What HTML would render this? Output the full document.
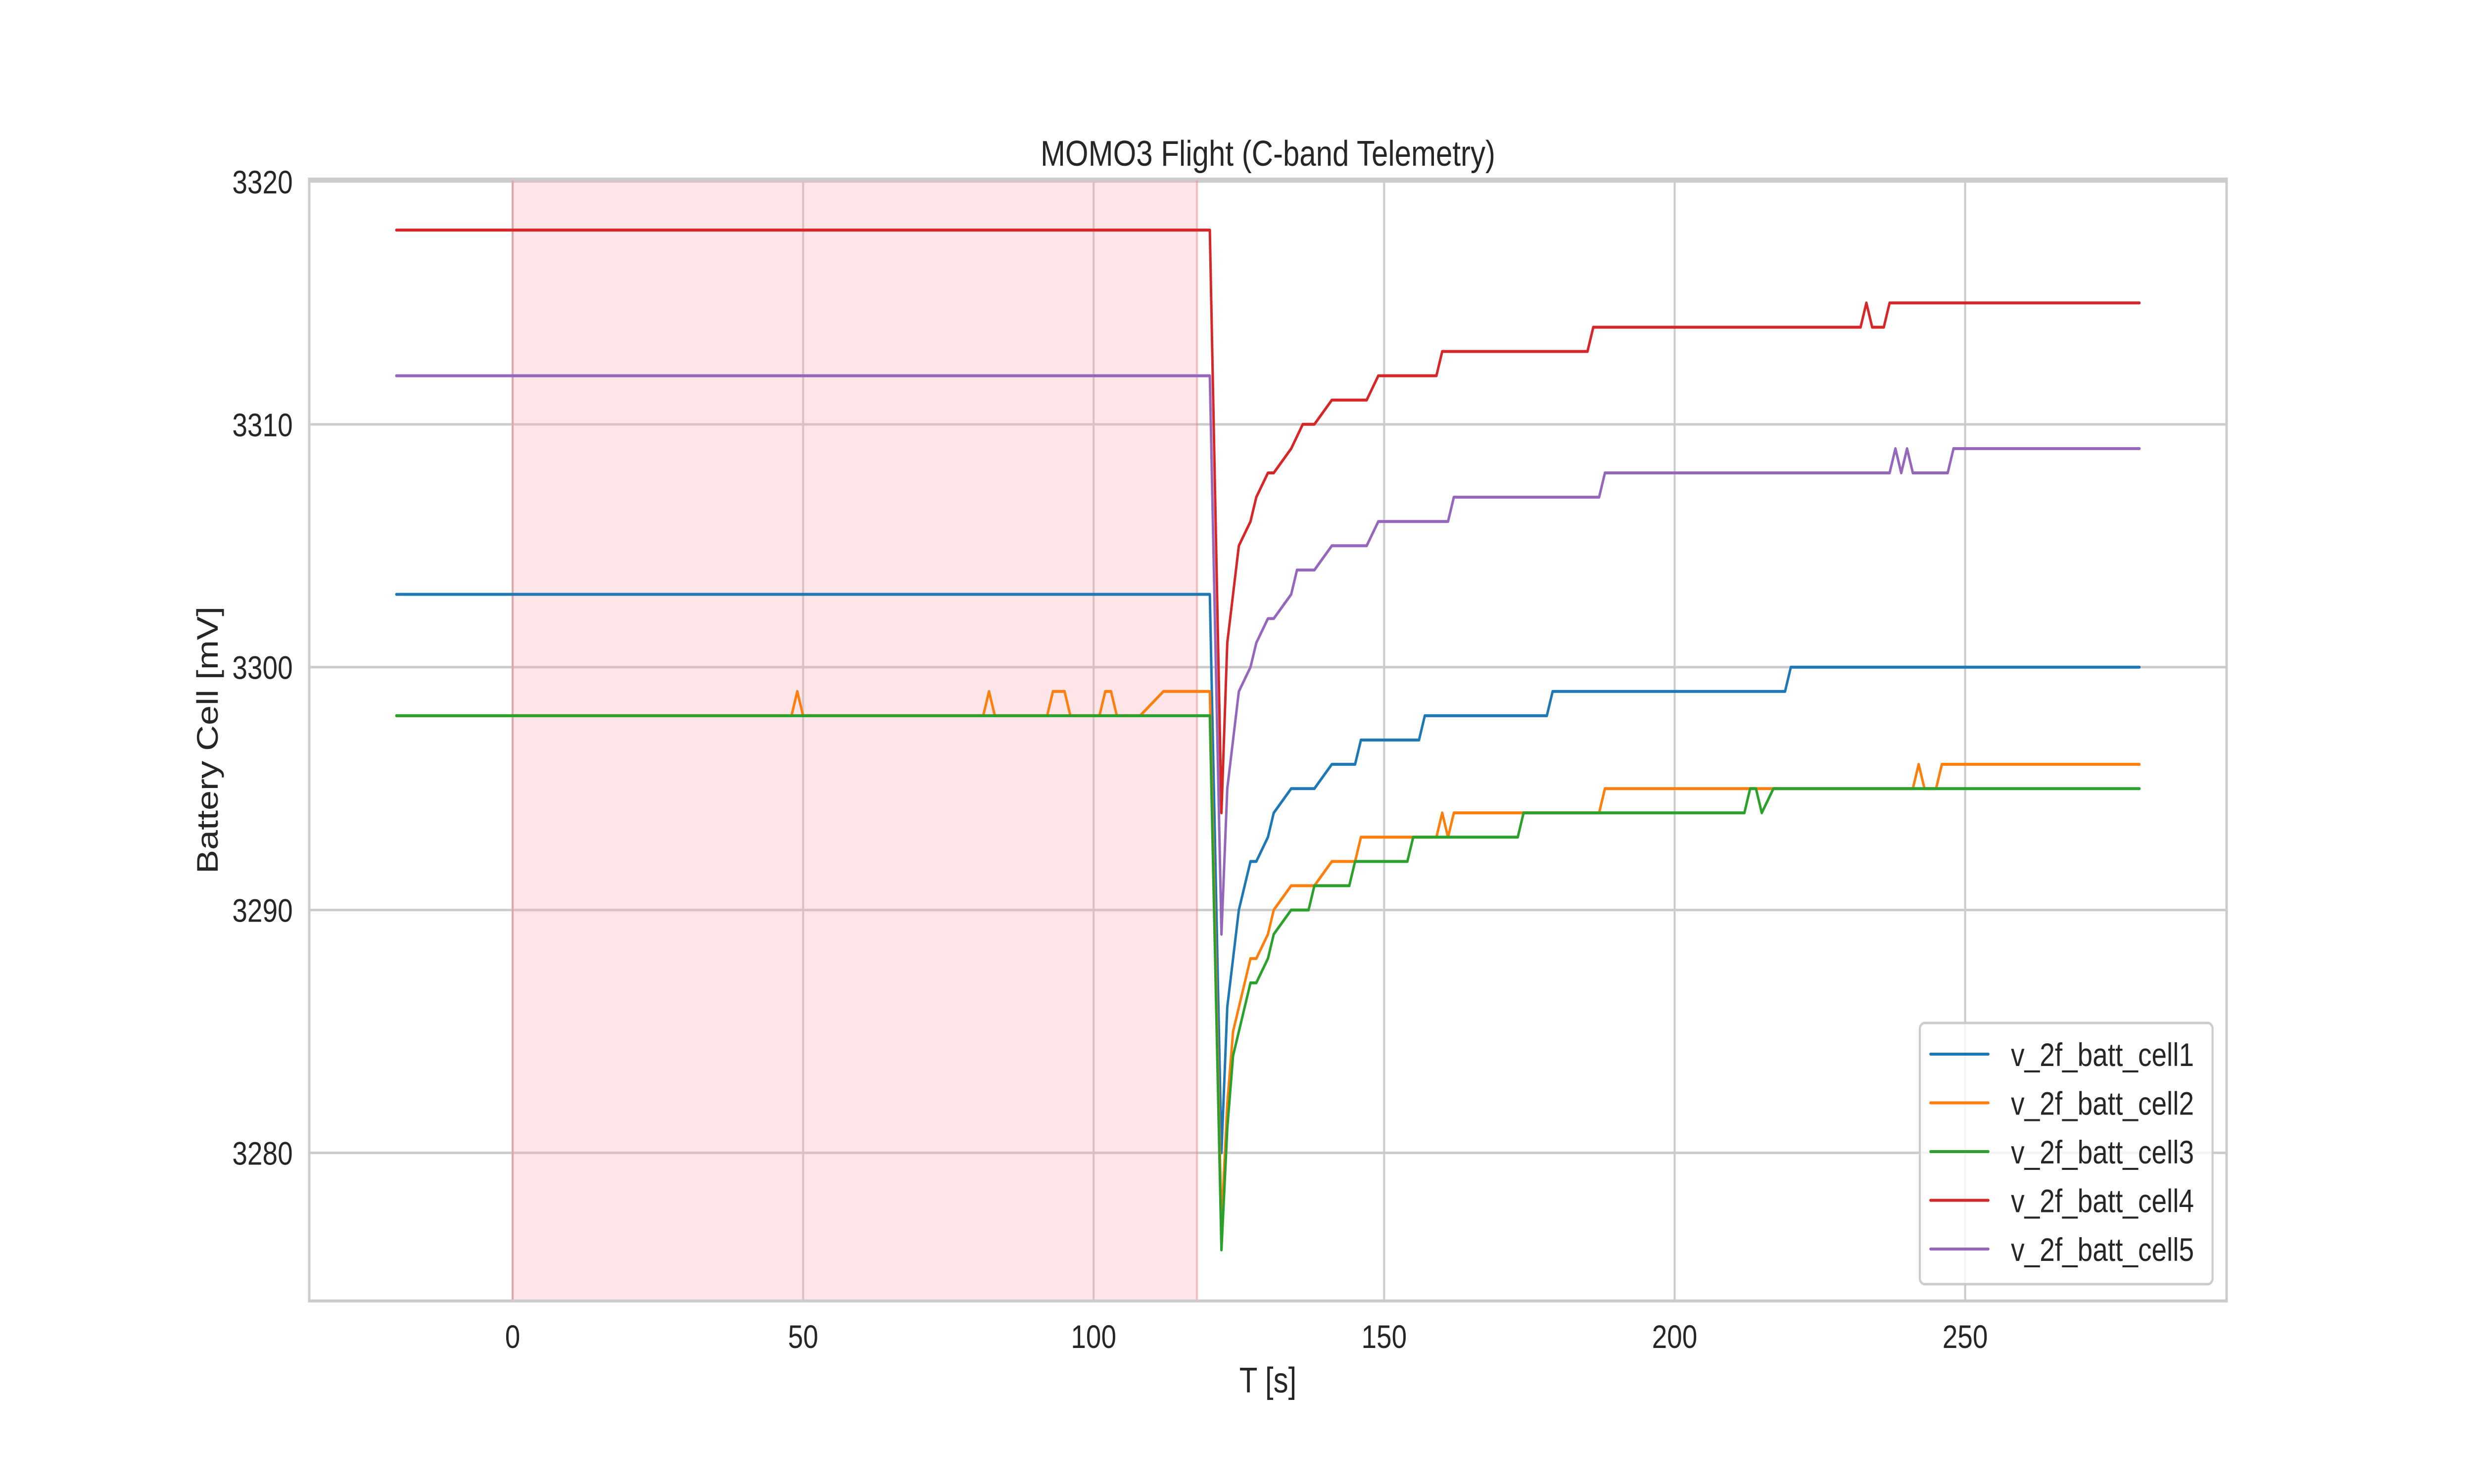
<!DOCTYPE html>
<html><head><meta charset="utf-8"><meta name="viewport" content="width=6000">
<style>
html,body{margin:0;padding:0;background:#fff;overflow:hidden;width:100vw;height:100vh;}
svg{display:block;width:100vw;height:100vh;font-family:"Liberation Sans",Arial,sans-serif;}
</style></head><body>
<svg id="chart" viewBox="0 0 6000 3000" preserveAspectRatio="none" xmlns="http://www.w3.org/2000/svg">
<rect x="0" y="0" width="6000" height="3000" fill="#fff"/>
<g id="grid"></g>
<g id="shade"></g>
<g id="series"></g>
<rect x="750" y="362" width="4650" height="2268" fill="none" stroke="#cccccc" stroke-width="6"/>
<g id="ticks"></g>
<text x="3075" y="335" font-size="72" text-anchor="middle" fill="#262626">MOMO3 Flight (C-band Telemetry)</text>
<text x="3075" y="2815" font-size="72" text-anchor="middle" fill="#262626">T [s]</text>
<text x="528" y="1496" font-size="72" text-anchor="middle" fill="#262626" transform="rotate(-90 528 1496)">Battery Cell [mV]</text>
<g id="legend"></g>
</svg>
<script>
const xTicks=[0,50,100,150,200,250];
const yTicks=[3280,3290,3300,3310,3320];
const seriesNames=["v_2f_batt_cell1","v_2f_batt_cell2","v_2f_batt_cell3","v_2f_batt_cell4","v_2f_batt_cell5"];
const colors=["#1f77b4","#ff7f0e","#2ca02c","#d62728","#9467bd"];
const shadeRange=[0,117.8];
const cell1T=[-20,120,122,123,125,127,128,130,131,134,138,141,145,146,156,157,178,179,219,220,280];
const cell1V=[3303,3303,3280,3286,3290,3292,3292,3293,3294,3295,3295,3296,3296,3297,3297,3298,3298,3299,3299,3300,3300];
const cell2T=[-20,48,49,50,81,82,83,92,93,95,96,101,102,103,104,108,112,120,122,123,124,127,128,130,131,134,138,141,145,146,159,160,161,162,187,188,241,242,243,245,246,280];
const cell2V=[3298,3298,3299,3298,3298,3299,3298,3298,3299,3299,3298,3298,3299,3299,3298,3298,3299,3299,3277,3282,3285,3288,3288,3289,3290,3291,3291,3292,3292,3293,3293,3294,3293,3294,3294,3295,3295,3296,3295,3295,3296,3296];
const cell3T=[-20,120,122,123,124,127,128,130,131,134,137,138,144,145,154,155,173,174,212,213,214,215,217,280];
const cell3V=[3298,3298,3276,3281,3284,3287,3287,3288,3289,3290,3290,3291,3291,3292,3292,3293,3293,3294,3294,3295,3295,3294,3295,3295];
const cell4T=[-20,120,122,123,125,127,128,130,131,134,136,138,141,147,149,159,160,185,186,232,233,234,236,237,280];
const cell4V=[3318,3318,3294,3301,3305,3306,3307,3308,3308,3309,3310,3310,3311,3311,3312,3312,3313,3313,3314,3314,3315,3314,3314,3315,3315];
const cell5T=[-20,120,122,123,125,127,128,130,131,134,135,138,141,147,149,161,162,187,188,237,238,239,240,241,247,248,280];
const cell5V=[3312,3312,3289,3295,3299,3300,3301,3302,3302,3303,3304,3304,3305,3305,3306,3306,3307,3307,3308,3308,3309,3308,3309,3308,3308,3309,3309];

const NS="http://www.w3.org/2000/svg";
const L=750,R=5400,T=362,B=2630,X0=-35,X1=295,Y0=3273.9,Y1=3320.1;
function sx(v){return L+(v-X0)/(X1-X0)*(R-L);}
function sy(v){return B-(v-Y0)/(Y1-Y0)*(B-T);}
function mk(tag,attrs,parent){const e=document.createElementNS(NS,tag);for(const k in attrs)e.setAttribute(k,attrs[k]);parent.appendChild(e);return e;}
const grid=document.getElementById('grid'),ticks=document.getElementById('ticks');
xTicks.forEach(v=>{
  const l=mk('line',{x1:sx(v),x2:sx(v),y1:T,y2:B,stroke:'#cccccc','stroke-width':5},grid);
  
  
  const t=mk('text',{x:sx(v),y:B+95,'font-size':66,'text-anchor':'middle',fill:'#262626'},ticks);
  t.textContent=v;
  
  
});
yTicks.forEach(v=>{
  const l=mk('line',{x1:L,x2:R,y1:sy(v),y2:sy(v),stroke:'#cccccc','stroke-width':5},grid);
  
  
  const t=mk('text',{x:L-40,y:sy(v)+24,'font-size':66,'text-anchor':'end',fill:'#262626'},ticks);
  t.textContent=v;
  
  
});
const sh=mk('rect',{x:sx(shadeRange[0]),y:T,width:sx(shadeRange[1])-sx(shadeRange[0]),height:B-T,fill:'rgba(250,170,180,0.3)',stroke:'rgba(230,140,150,0.5)','stroke-width':5},document.getElementById('shade'));


const allT=[cell1T,cell2T,cell3T,cell4T,cell5T],allV=[cell1V,cell2V,cell3V,cell4V,cell5V];
const sg=document.getElementById('series');
for(let i=0;i<5;i++){
  const d=allT[i].map((t,j)=>(j?'L':'M')+sx(t).toFixed(1)+' '+sy(allV[i][j]).toFixed(1)).join(' ');
  const p=mk('path',{d:d,fill:'none',stroke:colors[i],'stroke-width':6,'stroke-linejoin':'round','stroke-linecap':'round'},sg);
  
  
}
const lg=document.getElementById('legend');
const box=mk('rect',{x:4656,y:2068,width:710,height:528,rx:12,fill:'rgba(255,255,255,0.8)',stroke:'#cccccc','stroke-width':5},lg);


for(let i=0;i<5;i++){
  const y=2131+i*98.5;
  const ln=mk('line',{x1:4682,x2:4822,y1:y,y2:y,stroke:colors[i],'stroke-width':6,'stroke-linecap':'round'},lg);
  
  
  const t=mk('text',{x:4877,y:y+24,'font-size':66,fill:'#262626'},lg);
  t.textContent=seriesNames[i];
  
  
}
</script>
</body></html>
